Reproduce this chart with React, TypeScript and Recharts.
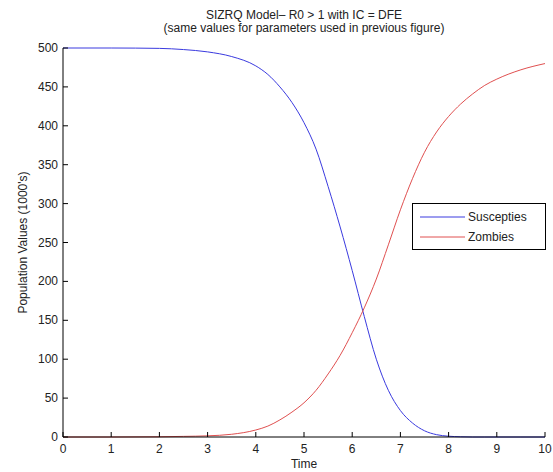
import { LineChart, Line, XAxis, YAxis } from "recharts"

const times = [0, 1, 2, 2.5, 3, 3.5, 4, 4.25, 4.5, 4.75, 5, 5.25, 5.5, 5.75, 6, 6.25, 6.5, 6.75, 7, 7.25, 7.5, 7.75, 8, 8.25, 8.5, 8.75, 9, 9.5, 10]
const susceptibles = [500, 500, 499.5, 498, 495, 489, 477, 466, 450, 430, 404, 370, 322, 270, 214, 155, 100, 60, 34, 18, 8, 3, 1, 0.3, 0, 0, 0, 0, 0]
const zombies = [0, 0, 0.3, 0.8, 1.5, 3.5, 9, 14, 22, 32, 44, 60, 81, 105, 134, 166, 203, 247, 292, 332, 366, 392, 412, 428, 441, 452, 460, 472, 480]
const xTicks = [0, 1, 2, 3, 4, 5, 6, 7, 8, 9, 10]
const yTicks = [0, 50, 100, 150, 200, 250, 300, 350, 400, 450, 500]

const BLUE = "#3a3adf"
const RED = "#e05050"
const FONT = "'Liberation Sans', Arial, sans-serif"

const data = times.map((t, i) => ({ t, s: susceptibles[i], z: zombies[i] }))

const XTick = (props: any) => {
  const { x, y, payload } = props
  return (
    <g>
      <line x1={x} y1={y} x2={x} y2={y - 5} stroke="#000" />
      <text x={x} y={y + 16} textAnchor="middle" fontSize={12} fontFamily={FONT} fill="#222">
        {payload.value}
      </text>
    </g>
  )
}

const YTick = (props: any) => {
  const { x, y, payload } = props
  return (
    <g>
      <line x1={x} y1={y} x2={x + 5} y2={y} stroke="#000" />
      <text x={x - 5} y={y + 4} textAnchor="end" fontSize={12} fontFamily={FONT} fill="#222">
        {payload.value}
      </text>
    </g>
  )
}

const LegendBox = () => (
  <div
    style={{
      position: "absolute",
      left: 412,
      top: 203,
      width: 134,
      height: 47,
      boxSizing: "border-box",
      border: "1px solid #000",
      background: "#fff",
      fontFamily: FONT,
      fontSize: 12,
      color: "#222",
    }}
  >
    {[
      { name: "Suscepties", color: BLUE, top: 13 },
      { name: "Zombies", color: RED, top: 33 },
    ].map((e) => (
      <div key={e.name} style={{ position: "absolute", left: 0, top: e.top - 8, height: 16, width: 132 }}>
        <svg width={54} height={16} style={{ position: "absolute", left: 0, top: 0 }}>
          <line x1={7} y1={8} x2={52} y2={8} stroke={e.color} strokeWidth={1} />
        </svg>
        <span style={{ position: "absolute", left: 55, top: 1, lineHeight: "14px" }}>{e.name}</span>
      </div>
    ))}
  </div>
)

export default function App() {
  return (
    <div style={{ position: "absolute", left: 0, top: 0, width: 553, height: 472, background: "#fff", fontFamily: FONT }}>
      <div
        style={{
          position: "absolute",
          left: 104,
          width: 400,
          top: 9,
          textAlign: "center",
          fontSize: 12,
          lineHeight: "13px",
          color: "#222",
        }}
      >
        <div>SIZRQ Model– R0 &gt; 1 with IC = DFE</div>
        <div>(same values for parameters used in previous figure)</div>
      </div>
      <LineChart width={553} height={472} data={data} margin={{ top: 48, right: 8, bottom: 0, left: 0 }}>
        <XAxis
          dataKey="t"
          type="number"
          domain={[0, 10]}
          ticks={xTicks}
          height={35}
          stroke="#000"
          tickSize={0}
          tickMargin={0}
          tickLine={false}
          tick={<XTick />}
          label={{ value: "Time", position: "insideBottom", offset: 4, fontSize: 12, fill: "#222", fontFamily: FONT }}
        />
        <YAxis
          type="number"
          domain={[0, 500]}
          ticks={yTicks}
          width={63}
          stroke="#000"
          tickSize={0}
          tickMargin={0}
          tickLine={false}
          tick={<YTick />}
          label={(p: any) => {
            const vb = p.viewBox
            const cy = vb.y + vb.height / 2
            return (
              <text
                x={27}
                y={cy}
                transform={`rotate(-90, 27, ${cy})`}
                textAnchor="middle"
                fontSize={12}
                fontFamily={FONT}
                fill="#222"
              >
                Population Values (1000's)
              </text>
            )
          }}
        />
        <Line type="monotone" dataKey="s" stroke={BLUE} strokeWidth={1} dot={false} isAnimationActive={false} />
        <Line type="monotone" dataKey="z" stroke={RED} strokeWidth={1} dot={false} isAnimationActive={false} />
      </LineChart>
      <LegendBox />
    </div>
  )
}
